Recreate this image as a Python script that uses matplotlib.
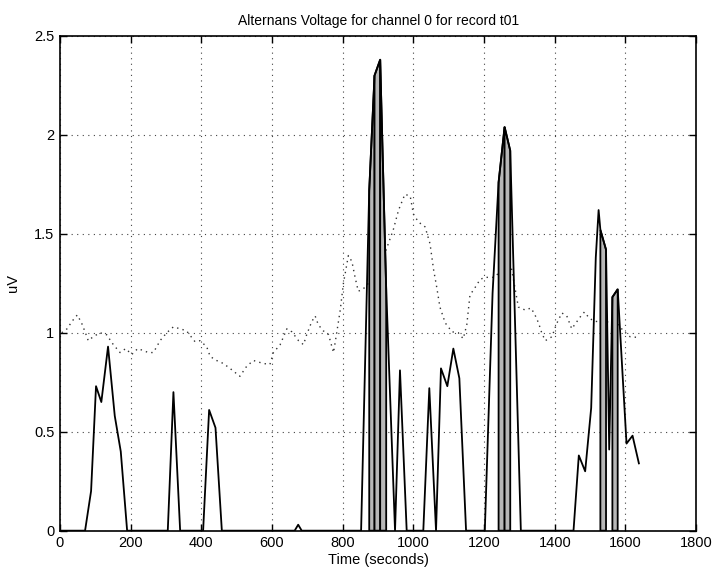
import matplotlib
matplotlib.use("Agg")
import matplotlib.pyplot as plt
import numpy as np

plt.rcParams['font.family'] = ['Liberation Sans', 'DejaVu Sans']

# Alternans voltage estimate (uV) at each analysis window
volt_t = [0, 71, 88, 102, 117, 136, 155, 172, 190,
          305, 321, 340,
          405, 422, 440, 458,
          664, 674, 684,
          852, 875, 890, 906, 923, 948, 962, 981,
          1028, 1045, 1064, 1078, 1096, 1113, 1130, 1149,
          1202, 1224, 1241, 1258, 1274, 1304,
          1453, 1468, 1486, 1503, 1516, 1524, 1529, 1545, 1554,
          1563, 1578, 1603, 1620, 1638]
volt_v = [0, 0, 0.20, 0.73, 0.65, 0.93, 0.58, 0.40, 0,
          0, 0.70, 0,
          0, 0.61, 0.52, 0,
          0, 0.03, 0,
          0, 1.72, 2.30, 2.38, 1.22, 0, 0.81, 0,
          0, 0.72, 0, 0.82, 0.73, 0.92, 0.77, 0,
          0, 1.20, 1.76, 2.04, 1.92, 0,
          0, 0.38, 0.30, 0.62, 1.38, 1.62, 1.52, 1.42, 0.41,
          1.18, 1.22, 0.44, 0.48, 0.34]
# windows flagged as significant alternans
volt_flag = [0, 0, 0, 0, 0, 0, 0, 0, 0,
             0, 0, 0,
             0, 0, 0, 0,
             0, 0, 0,
             0, 1, 1, 1, 1, 0, 0, 0,
             0, 0, 0, 0, 0, 0, 0, 0,
             0, 0, 1, 1, 1, 0,
             0, 0, 0, 0, 0, 0, 1, 1, 0,
             1, 1, 0, 0, 0]

# Noise-level threshold (uV)
thr_t = [5, 20, 35, 49, 61, 72, 80, 94, 113, 132, 151, 170, 186, 203, 220,
         236, 250, 264, 274, 283, 302, 321, 340, 358, 382, 396, 415, 425,
         443, 462, 481, 509, 528, 547, 575, 594, 604, 623, 642, 656, 675,
         689, 698, 712, 722, 731, 745, 760, 774, 783, 793, 802, 816, 826,
         835, 844, 857, 868, 885, 900, 915, 929, 943, 958, 976, 991, 1000,
         1014, 1033, 1047, 1057, 1066, 1075, 1090, 1109, 1127, 1141, 1151,
         1160, 1175, 1189, 1203, 1227, 1241, 1253, 1262, 1269, 1278, 1288,
         1297, 1316, 1333, 1344, 1354, 1363, 1373, 1392, 1405, 1420, 1434,
         1448, 1462, 1472, 1484, 1497, 1510, 1524, 1540, 1557, 1580, 1594,
         1613, 1632, 1638]
thr_v = [1.00, 1.02, 1.06, 1.09, 1.05, 1.00, 0.96, 0.98, 1.00, 0.99, 0.94,
         0.90, 0.92, 0.89, 0.92, 0.91, 0.90, 0.90, 0.93, 0.96, 1.00, 1.03,
         1.02, 1.01, 0.955, 0.96, 0.93, 0.88, 0.86, 0.845, 0.82, 0.78, 0.83,
         0.86, 0.845, 0.84, 0.90, 0.94, 1.02, 1.005, 0.96, 0.94, 0.99, 1.055,
         1.085, 1.04, 1.01, 0.99, 0.90, 1.00, 1.115, 1.25, 1.39, 1.36, 1.28,
         1.21, 1.22, 1.24, 1.28, 1.32, 1.38, 1.45, 1.52, 1.62, 1.70, 1.69,
         1.60, 1.56, 1.535, 1.45, 1.32, 1.23, 1.13, 1.05, 1.005, 1.00, 0.97,
         1.04, 1.19, 1.23, 1.27, 1.28, 1.28, 1.30, 1.325, 1.38, 1.375, 1.32,
         1.22, 1.13, 1.115, 1.125, 1.09, 1.05, 1.00, 0.96, 0.98, 1.045, 1.10,
         1.085, 1.02, 1.055, 1.08, 1.105, 1.075, 1.06, 1.055, 1.055, 1.055,
         1.04, 1.01, 0.98, 0.977, 0.97]

x_ticks = [0, 200, 400, 600, 800, 1000, 1200, 1400, 1600, 1800]
y_ticks = [0, 0.5, 1, 1.5, 2, 2.5]
y_tick_labels = ['0', '0.5', '1', '1.5', '2', '2.5']

fig = plt.figure(figsize=(7.14, 5.70), dpi=100)
ax = fig.add_axes([0.084, 0.069, 0.891, 0.868])

ax.grid(True, linestyle=(0, (1, 4)), color='#444444', linewidth=0.8)
ax.set_axisbelow(True)

ax.plot(thr_t, thr_v, linestyle=(0, (1, 3)), color='#333333', linewidth=1.0, zorder=2)

# shade the flagged windows, one patch per pair of consecutive flagged samples
for i in range(len(volt_t) - 1):
    if volt_flag[i] and volt_flag[i + 1]:
        ax.fill([volt_t[i], volt_t[i], volt_t[i + 1], volt_t[i + 1]],
                [0, volt_v[i], volt_v[i + 1], 0],
                facecolor='#b8b8b8', edgecolor='black', linewidth=1.3, zorder=3)

ax.plot(volt_t, volt_v, color='black', linewidth=1.3, zorder=4)

ax.set_xlim(0, 1800)
ax.set_ylim(0, 2.5)
ax.set_xticks(x_ticks)
ax.set_yticks(y_ticks)
ax.set_yticklabels(y_tick_labels)
ax.tick_params(direction='in', top=True, right=True, length=5, width=1,
               labelsize=10.5, pad=4)
for s in ax.spines.values():
    s.set_linewidth(1.2)

ax.set_title('Alternans Voltage for channel 0 for record t01', fontsize=10, pad=8)
ax.set_xlabel('Time (seconds)', fontsize=10.5, labelpad=2)
ax.set_ylabel('uV', fontsize=10.5, labelpad=10)

fig.savefig('out.png', dpi=100)
